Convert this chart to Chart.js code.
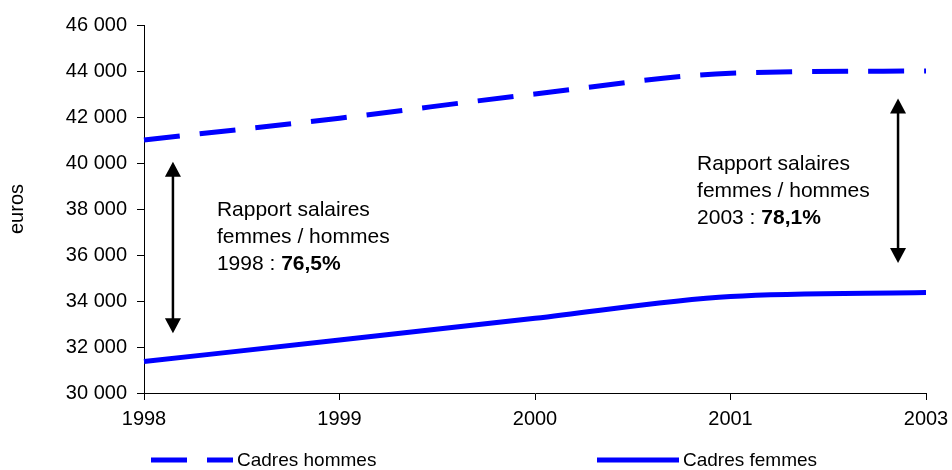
<!DOCTYPE html>
<html>
<head>
<meta charset="utf-8">
<script src="https://cdn.jsdelivr.net/npm/chart.js@4.4.0/dist/chart.umd.min.js"></script>
<style>
  html, body { margin: 0; padding: 0; background: #ffffff; }
  #wrap { width: 952px; height: 470px; }
</style>
</head>
<body>
<div id="wrap"><canvas id="c" width="952" height="470"></canvas></div>
<script>
// Annual salaries of managers (cadres), in euros
const years = ['1998', '1999', '2000', '2001', '2003'];
const cadresHommes = [41000, 41950, 43000, 43900, 44000];
const cadresFemmes = [31370, 32300, 33250, 34200, 34370];
const seriesNames = ['Cadres hommes', 'Cadres femmes'];

// Y axis range and step
const yMin = 30000;
const yMax = 46000;
const yStep = 2000;

const FONT = "'Liberation Sans', Arial, sans-serif";
const BLUE = '#0000ff';

// Women / men salary ratio for a given year, French formatting
function ratioText(i) {
  return (cadresFemmes[i] / cadresHommes[i] * 100).toFixed(1).replace('.', ',') + '%';
}

// Double arrows and captions, placed in data coordinates (x = category index)
const notes = [
  { arrowX: 0.148, arrowTop: 40050, arrowBottom: 32600,
    textX: 0.373, textY: 37950, year: 0 },
  { arrowX: 3.857, arrowTop: 42800, arrowBottom: 35650,
    textX: 2.829, textY: 39950, year: 4 }
];

const notesPlugin = {
  id: 'notes',
  afterDatasetsDraw(chart) {
    const { ctx, scales: { x, y } } = chart;
    ctx.save();
    notes.forEach(n => {
      const px = x.getPixelForValue(n.arrowX);
      const top = y.getPixelForValue(n.arrowTop);
      const bot = y.getPixelForValue(n.arrowBottom);
      const headL = 15, headW = 8;
      ctx.strokeStyle = '#000';
      ctx.fillStyle = '#000';
      ctx.lineWidth = 2.5;
      ctx.beginPath();
      ctx.moveTo(px, top + headL - 2);
      ctx.lineTo(px, bot - headL + 2);
      ctx.stroke();
      ctx.beginPath();
      ctx.moveTo(px, top);
      ctx.lineTo(px - headW, top + headL);
      ctx.lineTo(px + headW, top + headL);
      ctx.closePath();
      ctx.fill();
      ctx.beginPath();
      ctx.moveTo(px, bot);
      ctx.lineTo(px - headW, bot - headL);
      ctx.lineTo(px + headW, bot - headL);
      ctx.closePath();
      ctx.fill();

      const tx = x.getPixelForValue(n.textX);
      const ty = y.getPixelForValue(n.textY);
      const lh = 27;
      ctx.textBaseline = 'middle';
      ctx.textAlign = 'left';
      ctx.font = '21px ' + FONT;
      ctx.fillText('Rapport salaires', tx, ty);
      ctx.fillText('femmes / hommes', tx, ty + lh);
      const lead = years[n.year] + ' : ';
      ctx.fillText(lead, tx, ty + 2 * lh);
      const w = ctx.measureText(lead).width;
      ctx.font = 'bold 21px ' + FONT;
      ctx.fillText(ratioText(n.year), tx + w, ty + 2 * lh);
    });
    ctx.restore();
  }
};

// Legend below the axis, drawn with each dataset's own line style
const legendPlugin = {
  id: 'bottomLegend',
  afterDraw(chart) {
    const { ctx } = chart;
    const items = [
      { x1: 151, x2: 233, tx: 237 },
      { x1: 597, x2: 679, tx: 683 }
    ];
    const ly = 460;
    ctx.save();
    chart.data.datasets.forEach((ds, i) => {
      const it = items[i];
      ctx.strokeStyle = ds.borderColor;
      ctx.lineWidth = ds.borderWidth;
      ctx.setLineDash(ds.borderDash || []);
      ctx.lineCap = 'butt';
      ctx.beginPath();
      ctx.moveTo(it.x1, ly);
      ctx.lineTo(it.x2, ly);
      ctx.stroke();
      ctx.setLineDash([]);
      ctx.fillStyle = '#000';
      ctx.font = '19px ' + FONT;
      ctx.textBaseline = 'middle';
      ctx.textAlign = 'left';
      ctx.fillText(ds.label, it.tx, ly + 1);
    });
    ctx.restore();
  }
};

new Chart(document.getElementById('c'), {
  type: 'line',
  data: {
    labels: years,
    datasets: [
      {
        label: seriesNames[0],
        data: cadresHommes,
        borderColor: BLUE,
        borderWidth: 5,
        borderDash: [36, 20],
        pointRadius: 0,
        fill: false,
        cubicInterpolationMode: 'monotone'
      },
      {
        label: seriesNames[1],
        data: cadresFemmes,
        borderColor: BLUE,
        borderWidth: 5,
        pointRadius: 0,
        fill: false,
        cubicInterpolationMode: 'monotone'
      }
    ]
  },
  options: {
    responsive: false,
    animation: false,
    devicePixelRatio: 1,
    layout: { padding: { left: 0, right: 26, top: 25, bottom: 0 } },
    plugins: {
      legend: { display: false },
      tooltip: { enabled: false }
    },
    scales: {
      x: {
        type: 'category',
        offset: false,
        grid: {
          display: true,
          drawOnChartArea: false,
          drawTicks: true,
          tickLength: 7,
          color: '#000',
          offset: false
        },
        border: { display: true, color: '#000', width: 1 },
        ticks: {
          color: '#000',
          font: { family: FONT, size: 20 },
          padding: 7,
          maxRotation: 0,
          autoSkip: false
        },
        afterFit(scale) {
          scale.height = 77;
          scale.paddingLeft = 0;
          scale.paddingRight = 0;
        }
      },
      y: {
        min: yMin,
        max: yMax,
        grid: {
          display: true,
          drawOnChartArea: false,
          drawTicks: true,
          tickLength: 7,
          color: '#000'
        },
        border: { display: true, color: '#000', width: 1 },
        ticks: {
          stepSize: yStep,
          color: '#000',
          font: { family: FONT, size: 20 },
          padding: 10,
          callback: v => String(v).replace(/\B(?=(\d{3})+(?!\d))/g, ' ')
        },
        title: {
          display: true,
          text: 'euros',
          color: '#000',
          font: { family: FONT, size: 20 },
          padding: { top: 5, bottom: 0 }
        },
        afterFit(scale) {
          scale.width = 144;
          scale.paddingTop = 0;
          scale.paddingBottom = 0;
        }
      }
    }
  },
  plugins: [notesPlugin, legendPlugin]
});
</script>
</body>
</html>
